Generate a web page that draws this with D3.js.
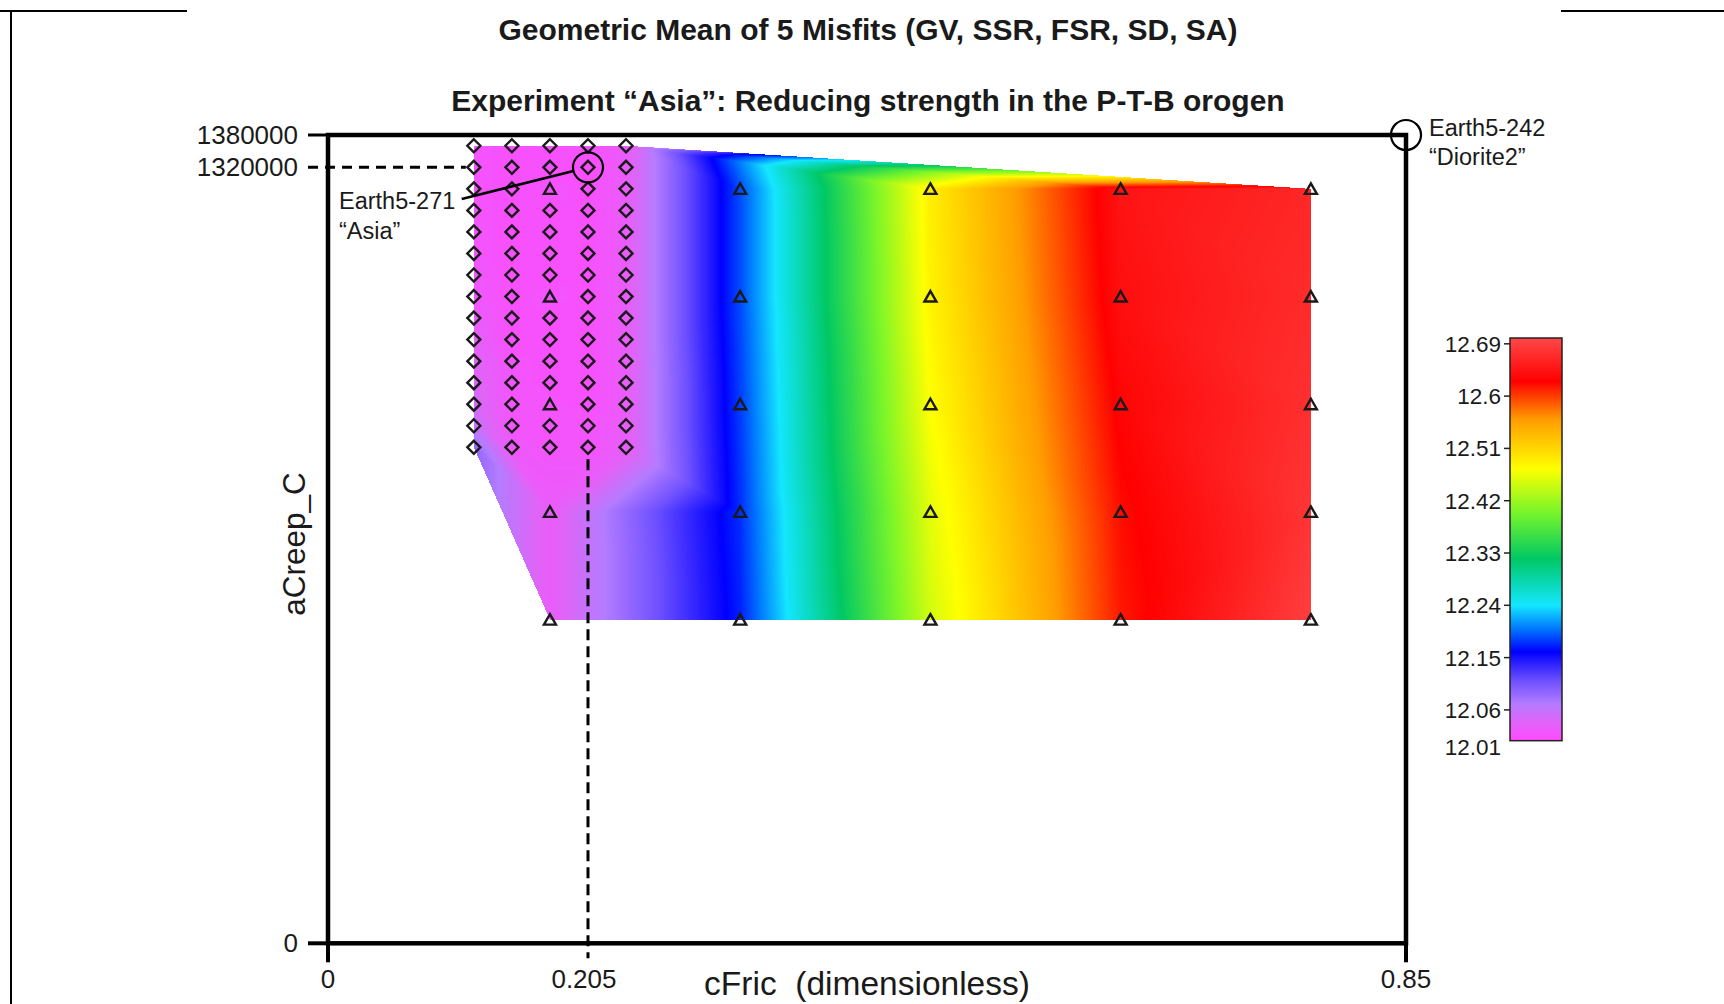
<!DOCTYPE html>
<html>
<head>
<meta charset="utf-8">
<script src="https://cdn.jsdelivr.net/npm/d3@7"></script>
<style>
  body { margin: 0; background: #fff; }
  text { font-family: "Liberation Sans", Arial, sans-serif; fill: #1a1a1a; }
</style>
</head>
<body>
<svg id="chart" width="1724" height="1004"></svg>
<script>
// ---- data ----
const diamondX = [0.115, 0.145, 0.175, 0.205, 0.235];
const diamondY = [1360000, 1320000, 1280000, 1240000, 1200000, 1160000, 1120000, 1080000,
                  1040000, 1000000, 960000, 920000, 880000, 840000, 800000];
// rows follow diamondY, columns follow diamondX
const diamondMisfit = [
  [12.02, 12.015, 12.015, 12.02, 12.03],
  [12.02, 12.015, 12.015, 12.012, 12.03],
  [12.02, 12.015, 12.02, 12.015, 12.03],
  [12.02, 12.015, 12.015, 12.015, 12.03],
  [12.02, 12.015, 12.015, 12.015, 12.03],
  [12.02, 12.015, 12.015, 12.015, 12.03],
  [12.025, 12.015, 12.015, 12.015, 12.03],
  [12.025, 12.015, 12.02, 12.015, 12.03],
  [12.03, 12.015, 12.015, 12.015, 12.03],
  [12.035, 12.015, 12.015, 12.015, 12.03],
  [12.04, 12.02, 12.015, 12.015, 12.03],
  [12.045, 12.02, 12.015, 12.015, 12.03],
  [12.05, 12.02, 12.02, 12.015, 12.03],
  [12.06, 12.02, 12.02, 12.02, 12.03],
  [12.09, 12.025, 12.02, 12.02, 12.03]
];
const triangleX = [0.175, 0.325, 0.475, 0.625, 0.775];
const triangleY = [1280000, 1080000, 880000, 680000, 480000];
const triangleMisfit = [
  [12.02, 12.185, 12.49, 12.645, 12.665],
  [12.02, 12.185, 12.485, 12.64, 12.67],
  [12.02, 12.18, 12.475, 12.63, 12.675],
  [12.03, 12.175, 12.46, 12.62, 12.68],
  [12.03, 12.17, 12.45, 12.615, 12.69]
];
const xTicks = [0, 0.205, 0.85];
const yTicks = [0, 1320000, 1380000];
const colorTicks = [12.69, 12.6, 12.51, 12.42, 12.33, 12.24, 12.15, 12.06];
const colorMin = 12.007, colorMax = 12.70;
const bestRun = { x: 0.205, y: 1320000, name: "Earth5-271", tag: "\u201CAsia\u201D" };
const cornerRun = { x: 0.85, y: 1380000, name: "Earth5-242", tag: "\u201CDiorite2\u201D" };

// ---- scales ----
const svg = d3.select("#chart");
const x = d3.scaleLinear().domain([0, 0.85]).range([328, 1406]);
// lower part of the axis is compressed below the lowest run
const y = d3.scaleLinear().domain([0, 480000, 1380000]).range([943.3, 619.6, 135]);

const rampStops = [12.007, 12.04, 12.07, 12.11, 12.16, 12.20, 12.24, 12.32, 12.40, 12.475, 12.56, 12.625, 12.70];
const rampColors = ["#ff4aff", "#e064f8", "#b47cff", "#6e50ff", "#0000ff", "#0078ff", "#14e6ff",
                    "#00c864", "#78f52a", "#ffff00", "#ff9c00", "#ff0000", "#ff4848"];
const color = d3.scaleLinear().domain(rampStops).range(rampColors).clamp(true);

// ---- runs ----
const runs = [];
diamondY.forEach((yv, r) => diamondX.forEach((xv, c) => {
  runs.push({ cx: xv, cy: yv, v: diamondMisfit[r][c], shape: "diamond" });
}));
triangleY.forEach((yv, r) => triangleX.forEach((xv, c) => {
  const same = runs.find(d => Math.abs(d.cx - xv) < 1e-9 && d.cy === yv);
  if (same) { same.shape = "triangle"; same.v = triangleMisfit[r][c]; }
  else runs.push({ cx: xv, cy: yv, v: triangleMisfit[r][c], shape: "triangle" });
}));

// ---- interpolated field (linear on a Delaunay triangulation) ----
const px = runs.map(d => x(d.cx)), py = runs.map(d => y(d.cy));
const delaunay = d3.Delaunay.from(runs, d => x(d.cx), d => y(d.cy));
const x0 = Math.floor(d3.min(px)), x1 = Math.ceil(d3.max(px));
const y0 = Math.floor(d3.min(py)), y1 = Math.ceil(d3.max(py));
const cw = x1 - x0, ch = y1 - y0;
const canvas = document.createElement("canvas");
canvas.width = cw; canvas.height = ch;
const ctx = canvas.getContext("2d");
const img = ctx.createImageData(cw, ch);
const lut = d3.range(1025).map(i => d3.rgb(color(colorMin + (colorMax - colorMin) * i / 1024)));
const tri = delaunay.triangles;
for (let t = 0; t < tri.length; t += 3) {
  const a = tri[t], b = tri[t + 1], c = tri[t + 2];
  const ax = px[a], ay = py[a], bx = px[b], by = py[b], cx = px[c], cy = py[c];
  const den = (by - cy) * (ax - cx) + (cx - bx) * (ay - cy);
  if (Math.abs(den) < 1e-9) continue;
  const minX = Math.max(x0, Math.floor(Math.min(ax, bx, cx))), maxX = Math.min(x1, Math.ceil(Math.max(ax, bx, cx)));
  const minY = Math.max(y0, Math.floor(Math.min(ay, by, cy))), maxY = Math.min(y1, Math.ceil(Math.max(ay, by, cy)));
  for (let j = minY; j < maxY; j++) {
    for (let i = minX; i < maxX; i++) {
      const sx = i + 0.5, sy = j + 0.5;
      const l1 = ((by - cy) * (sx - cx) + (cx - bx) * (sy - cy)) / den;
      const l2 = ((cy - ay) * (sx - cx) + (ax - cx) * (sy - cy)) / den;
      const l3 = 1 - l1 - l2;
      if (l1 < -1e-6 || l2 < -1e-6 || l3 < -1e-6) continue;
      const v = l1 * runs[a].v + l2 * runs[b].v + l3 * runs[c].v;
      const k = Math.max(0, Math.min(1024, Math.round((v - colorMin) / (colorMax - colorMin) * 1024)));
      const col = lut[k];
      const o = ((j - y0) * cw + (i - x0)) * 4;
      img.data[o] = col.r; img.data[o + 1] = col.g; img.data[o + 2] = col.b; img.data[o + 3] = 255;
    }
  }
}
ctx.putImageData(img, 0, 0);
svg.append("image")
  .attr("x", x0).attr("y", y0).attr("width", cw).attr("height", ch)
  .attr("href", canvas.toDataURL());

// ---- page frame ----
const frame = svg.append("g").attr("stroke", "#000").attr("stroke-width", 2);
frame.append("line").attr("x1", 0).attr("x2", 187).attr("y1", 11).attr("y2", 11);
frame.append("line").attr("x1", 1561).attr("x2", 1724).attr("y1", 11).attr("y2", 11);
frame.append("line").attr("x1", 11).attr("x2", 11).attr("y1", 11).attr("y2", 1004);

// ---- titles ----
svg.append("text").attr("x", 868).attr("y", 40).attr("text-anchor", "middle")
  .attr("font-size", 30).attr("font-weight", "bold")
  .text("Geometric Mean of 5 Misfits (GV, SSR, FSR, SD, SA)");
svg.append("text").attr("x", 868).attr("y", 111).attr("text-anchor", "middle")
  .attr("font-size", 30).attr("font-weight", "bold")
  .text("Experiment \u201CAsia\u201D: Reducing strength in the P-T-B orogen");

// ---- guide lines to the best run ----
svg.append("line")
  .attr("x1", 308).attr("x2", x(diamondX[0]) - 8)
  .attr("y1", y(bestRun.y)).attr("y2", y(bestRun.y))
  .attr("stroke", "#000").attr("stroke-width", 3).attr("stroke-dasharray", "10 7");
svg.append("line")
  .attr("x1", x(bestRun.x)).attr("x2", x(bestRun.x))
  .attr("y1", y(d3.min(diamondY)) + 12).attr("y2", y(0) + 15)
  .attr("stroke", "#000").attr("stroke-width", 3).attr("stroke-dasharray", "11 6");

// ---- plot frame and ticks ----
svg.append("rect")
  .attr("x", x(0)).attr("y", y(1380000))
  .attr("width", x(0.85) - x(0)).attr("height", y(0) - y(1380000))
  .attr("fill", "none").attr("stroke", "#000").attr("stroke-width", 4.5);

const yAxis = svg.append("g");
yAxis.selectAll("line").data(yTicks.filter(d => d !== 1320000)).join("line")
  .attr("x1", 308).attr("x2", x(0)).attr("y1", d => y(d)).attr("y2", d => y(d))
  .attr("stroke", "#000").attr("stroke-width", d => d === 0 ? 4 : 3);
yAxis.selectAll("text").data(yTicks).join("text")
  .attr("x", 298).attr("y", d => y(d) + 9).attr("text-anchor", "end")
  .attr("font-size", 26).text(d => d3.format("d")(d));

const xAxis = svg.append("g");
xAxis.selectAll("line").data(xTicks.filter(d => d !== 0.205)).join("line")
  .attr("x1", d => x(d)).attr("x2", d => x(d)).attr("y1", y(0)).attr("y2", y(0) + 19)
  .attr("stroke", "#000").attr("stroke-width", 4);
xAxis.selectAll("text").data(xTicks).join("text")
  .attr("x", d => x(d) - (d === 0.205 ? 4 : 0)).attr("y", 988).attr("text-anchor", "middle")
  .attr("font-size", 26).text(d => d === 0 ? "0" : String(d));

svg.append("text").attr("x", 867).attr("y", 995).attr("text-anchor", "middle")
  .attr("font-size", 33.5).attr("xml:space", "preserve").text("cFric  (dimensionless)");
svg.append("text").attr("transform", "translate(305,544) rotate(-90)").attr("text-anchor", "middle")
  .attr("font-size", 31.5).text("aCreep_C");

// ---- run markers ----
const marks = svg.append("g").attr("fill", "none").attr("stroke", "#1a1a1a").attr("stroke-width", 2.4);
marks.selectAll("path").data(runs).join("path")
  .attr("transform", d => `translate(${x(d.cx)},${y(d.cy)})`)
  .attr("d", d => d.shape === "diamond" ? "M0,-6.5L6.5,0L0,6.5L-6.5,0Z" : "M0,-5.5L6,5L-6,5Z");

// ---- annotations ----
function callout(run) {
  svg.append("circle").attr("cx", x(run.x)).attr("cy", y(run.y)).attr("r", 15)
    .attr("fill", "none").attr("stroke", "#000").attr("stroke-width", 2.2);
}
callout(bestRun);
callout(cornerRun);
{
  const bx = x(bestRun.x), by = y(bestRun.y), lx = 461.7, ly = 199;
  const len = Math.hypot(bx - lx, by - ly);
  svg.append("line").attr("x1", lx).attr("y1", ly)
    .attr("x2", bx - 15 * (bx - lx) / len).attr("y2", by - 15 * (by - ly) / len)
    .attr("stroke", "#000").attr("stroke-width", 2.5);
}
svg.append("text").attr("x", 339).attr("y", 208.5).attr("font-size", 23.5).text(bestRun.name);
svg.append("text").attr("x", 339).attr("y", 238.5).attr("font-size", 23.5).text(bestRun.tag);
svg.append("text").attr("x", 1429).attr("y", 136).attr("font-size", 23.5).text(cornerRun.name);
svg.append("text").attr("x", 1429).attr("y", 165).attr("font-size", 23.5).text(cornerRun.tag);

// ---- colour bar ----
const cb = d3.scaleLinear().domain([colorMin, colorMax]).range([740.7, 338]);
const grad = svg.append("defs").append("linearGradient").attr("id", "ramp")
  .attr("x1", 0).attr("y1", 1).attr("x2", 0).attr("y2", 0);
grad.selectAll("stop").data(rampStops).join("stop")
  .attr("offset", d => (d - colorMin) / (colorMax - colorMin))
  .attr("stop-color", (d, i) => rampColors[i]);
svg.append("rect").attr("x", 1510).attr("y", cb(colorMax)).attr("width", 52)
  .attr("height", cb(colorMin) - cb(colorMax))
  .attr("fill", "url(#ramp)").attr("stroke", "#222").attr("stroke-width", 1.5);
const cbAxis = svg.append("g");
cbAxis.selectAll("line").data(colorTicks).join("line")
  .attr("x1", 1504).attr("x2", 1510).attr("y1", d => cb(d)).attr("y2", d => cb(d))
  .attr("stroke", "#222").attr("stroke-width", 1.5);
cbAxis.selectAll("text").data(colorTicks).join("text")
  .attr("x", 1501).attr("y", d => cb(d) + 7.9).attr("text-anchor", "end")
  .attr("font-size", 22.5).text(d => String(d));
svg.append("text").attr("x", 1501).attr("y", 755).attr("text-anchor", "end")
  .attr("font-size", 22.5).text("12.01");
</script>
</body>
</html>
